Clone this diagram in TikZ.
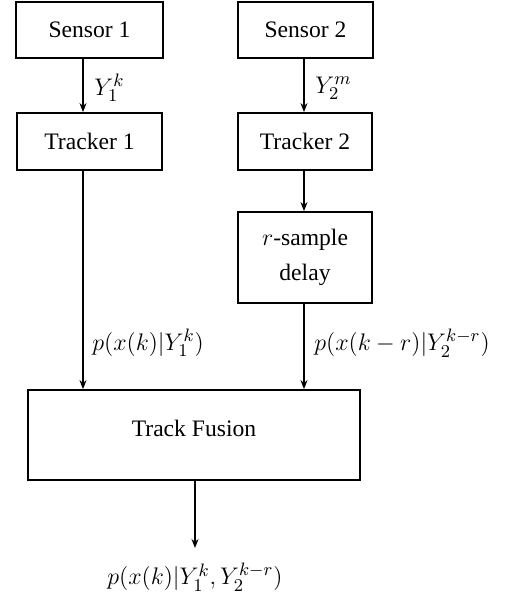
\documentclass[tikz,border=0pt]{standalone}
\usepackage[no-math]{fontspec}
\setmainfont{Liberation Serif}
\usetikzlibrary{arrows.meta}
\begin{document}
\begin{tikzpicture}[x=0.5pt,y=-0.5pt,
  every node/.style={font=\fontsize{11.8}{14}\selectfont},
  blk/.style={draw,line width=0.9pt,inner sep=0pt,align=center},
  lbl/.style={inner sep=0pt,font=\fontsize{12.9}{15}\selectfont},
  conn/.style={line width=0.7pt,-{Stealth[length=4.5pt,width=3.5pt]}}]
\useasboundingbox (0,0) rectangle (509,596);
\node[blk,minimum width=73.5pt,minimum height=28pt] (s1) at (89.5,30) {Sensor 1};
\node[blk,minimum width=67.5pt,minimum height=28pt] (s2) at (305.5,30) {Sensor 2};
\node[blk,minimum width=72.5pt,minimum height=28.5pt] (t1) at (89.5,141.5) {Tracker 1};
\node[blk,minimum width=67pt,minimum height=28.5pt] (t2) at (305,141.5) {Tracker 2};
\node[blk,minimum width=67pt,minimum height=45.5pt] (dl) at (305,257.5) {$r$-sample\\[3.5pt]delay};
\node[blk,minimum width=166pt,minimum height=45pt] (fu) at (194,435) {};
\node[inner sep=0pt] (fut) at (194,428) {Track Fusion};
\coordinate (a1) at (83,0);
\coordinate (a2) at (304,0);
\coordinate (a3) at (195,0);
\coordinate (oend) at (195,548);
\node[lbl] (out) at (195,577) {$p(x(k)|Y_1^k,Y_2^{k-r})$};
\draw[conn] (s1.south -| a1) -- (t1.north -| a1);
\draw[conn] (s2.south -| a2) -- (t2.north -| a2);
\draw[conn] (t2.south -| a2) -- (dl.north -| a2);
\draw[conn] (t1.south -| a1) -- (fu.north -| a1);
\draw[conn] (dl.south -| a2) -- (fu.north -| a2);
\draw[conn] (fu.south -| a3) -- (oend);
\node[lbl,anchor=west] (y1) at (94,88) {$Y_1^k$};
\node[lbl,anchor=west] (y2) at (315,88) {$Y_2^m$};
\node[lbl,anchor=west] (p1) at (92,343) {$p(x(k)|Y_1^k)$};
\node[lbl,anchor=west] (p2) at (314,343) {$p(x(k-r)|Y_2^{k-r})$};
\end{tikzpicture}
\end{document}
